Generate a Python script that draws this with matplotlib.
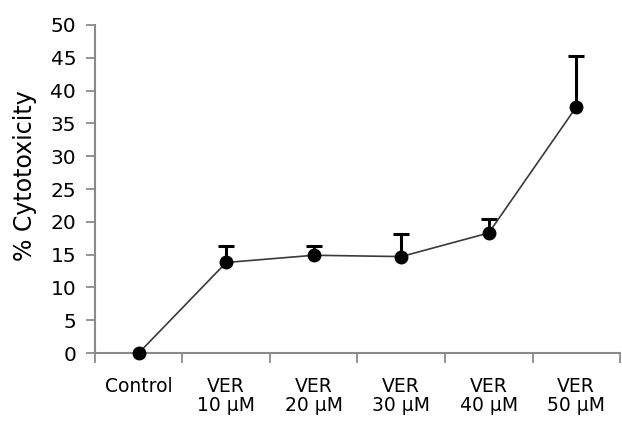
import matplotlib
matplotlib.use("Agg")
import matplotlib.pyplot as plt
import numpy as np

# data
categories = ["Control", "VER\n10 µM", "VER\n20 µM", "VER\n30 µM", "VER\n40 µM", "VER\n50 µM"]
cytotoxicity = [0.0, 13.8, 14.9, 14.7, 18.3, 37.5]
error_upper = [0.0, 2.5, 1.4, 3.4, 2.1, 7.8]
y_ticks = [0, 5, 10, 15, 20, 25, 30, 35, 40, 45, 50]

plt.rcParams['font.family'] = ['DejaVu Sans']

fig = plt.figure(figsize=(6.22, 4.28), dpi=100)
ax = fig.add_axes([0.1527, 0.1752, 0.8441, 0.7664])

x = np.arange(len(categories))
y = np.array(cytotoxicity)
errs = np.array(error_upper)
mask = errs > 0

# upper error bars only (stem + cap)
ax.vlines(x[mask], y[mask], y[mask] + errs[mask], color='black', linewidth=2.2, zorder=2)
ax.plot(x[mask], y[mask] + errs[mask], '_', color='black', markersize=11, markeredgewidth=2.2, zorder=2)

# connecting line and markers
ax.plot(x, y, color='#3a3a3a', linewidth=1.2, zorder=2)
ax.plot(x, y, 'o', color='black', markersize=9, zorder=3)

ax.set_xlim(-0.5, len(categories) - 0.5)
ax.set_ylim(0, 50)

# ticks at category boundaries, labels centered
ax.set_xticks(np.arange(-0.5, len(categories), 1.0))
ax.set_xticklabels([])
ax.set_xticks(x, minor=True)
ax.set_xticklabels(categories, minor=True, fontsize=13.5, linespacing=1.05)
ax.tick_params(axis='x', which='minor', length=0, pad=17)
ax.tick_params(axis='x', which='major', length=7, width=1.3, color='#8a8a8a', direction='out')

ax.set_yticks(y_ticks)
ax.set_yticklabels([str(t) for t in y_ticks], fontsize=14.5)
ax.tick_params(axis='y', length=6.5, width=1.3, color='#8a8a8a', direction='out', pad=7)

ax.set_ylabel("% Cytotoxicity", fontsize=17)
ax.yaxis.set_label_coords(-0.11, 0.54)

for side in ['top', 'right']:
    ax.spines[side].set_visible(False)
for side in ['left', 'bottom']:
    ax.spines[side].set_color('#8a8a8a')
    ax.spines[side].set_linewidth(1.5)

for artist in ax.get_children():
    try:
        artist.set_clip_on(False)
    except Exception:
        pass

fig.savefig("out.png", dpi=100)
